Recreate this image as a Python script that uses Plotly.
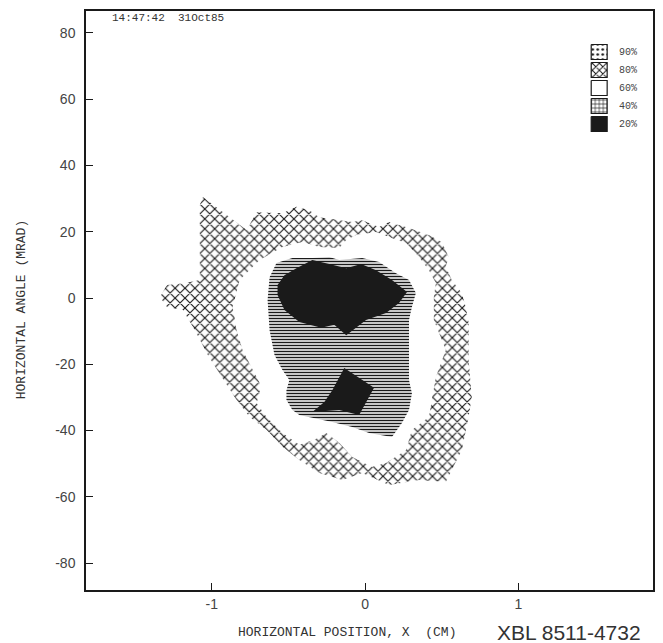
import plotly.graph_objects as go

# ---- data (x in cm, y in mrad) ----
ring80_x = [-1.058, -0.773, -0.708, -0.539, -0.448, -0.364, -0.299, -0.169, -0.084, -0.019,
            0.091, 0.156, 0.266, 0.416, 0.500, 0.545, 0.526, 0.565, 0.630, 0.656,
            0.675, 0.675, 0.695, 0.675, 0.630, 0.565, 0.526, 0.351, 0.156, -0.019,
            -0.149, -0.299, -0.429, -0.539, -0.643, -0.753, -0.838, -0.935, -1.026, -1.110,
            -1.188, -1.292, -1.338, -1.292, -1.175, -1.078, -1.078, -1.078]
ring80_y = [30.5, 20.5, 25.9, 25.6, 27.5, 26.5, 24.4, 23.5, 22.9, 23.5,
            21.4, 22.9, 21.4, 19.0, 16.9, 12.4, 9.4, 5.4, 1.5, -2.7,
            -7.5, -18.7, -29.9, -35.9, -45.9, -51.9, -55.5, -54.9, -56.4, -52.8,
            -54.9, -52.8, -48.9, -44.9, -39.8, -35.9, -30.8, -23.8, -17.2, -9.7,
            -3.6, -2.7, 0.3, 3.9, 4.5, 5.4, 17.5, 28.1]

band60_x = [-0.864, -0.818, -0.688, -0.539, -0.409, -0.299, -0.169, -0.123, -0.058, 0.071,
            0.156, 0.266, 0.351, 0.416, 0.461, 0.448, 0.448, 0.500, 0.526, 0.461,
            0.416, 0.305, 0.266, 0.136, 0.045, -0.084, -0.169, -0.253, -0.331, -0.429,
            -0.539, -0.643, -0.708, -0.688, -0.688, -0.799, -0.838]
band60_y = [-2.7, 5.4, 11.5, 15.4, 16.9, 15.4, 15.1, 17.5, 19.0, 19.9,
            18.4, 16.6, 12.4, 8.4, 4.5, 0.3, -6.6, -12.7, -15.7, -23.8,
            -35.9, -39.8, -45.9, -49.8, -51.0, -48.0, -43.7, -40.7, -42.8, -44.3,
            -40.7, -35.9, -31.7, -28.7, -25.6, -15.7, -9.7]

level40_x = [-0.578, -0.474, -0.344, -0.234, -0.169, -0.019, 0.091, 0.201, 0.286, 0.331,
             0.305, 0.286, 0.286, 0.286, 0.305, 0.286, 0.240, 0.175, 0.026, -0.084,
             -0.214, -0.429, -0.474, -0.513, -0.513, -0.494, -0.539, -0.591, -0.623, -0.636,
             -0.623]
level40_y = [10.6, 12.1, 12.1, 12.4, 11.5, 12.1, 10.9, 7.5, 5.4, 1.5,
             -2.7, -6.6, -15.7, -24.7, -28.7, -33.8, -37.7, -41.9, -40.7, -38.9,
             -37.4, -35.3, -33.8, -30.8, -27.8, -24.7, -21.7, -17.2, -9.7, -0.6,
             6.3]

core20a_x = [-0.571, -0.526, -0.448, -0.344, -0.234, -0.123, -0.026, 0.071, 0.175, 0.273,
             0.221, 0.136, 0.006, -0.123, -0.201, -0.286, -0.429, -0.526, -0.571]
core20a_y = [3.9, 6.9, 9.0, 11.5, 10.3, 9.0, 10.3, 8.4, 5.4, 1.8,
             -1.5, -4.5, -6.6, -11.2, -8.1, -9.0, -7.2, -3.6, 0.9]

core20b_x = [-0.136, 0.058, -0.039, -0.169, -0.344, -0.266, -0.214]
core20b_y = [-21.1, -27.1, -35.3, -33.8, -34.4, -31.4, -27.8]

legend_labels = ["90%", "80%", "60%", "40%", "20%"]
x_ticks = [-1, 0, 1]
y_ticks = [-80, -60, -40, -20, 0, 20, 40, 60, 80]

# ---- styles ----
INK = "#1a1a1a"
pat = {
    "90%": dict(shape=".", size=5, solidity=0.2, fgcolor=INK, bgcolor="white", fillmode="replace"),
    "80%": dict(shape="x", size=7, solidity=0.3, fgcolor=INK, bgcolor="white", fillmode="replace"),
    "40%": dict(shape="-", size=3, solidity=0.5, fgcolor=INK, bgcolor="white", fillmode="replace"),
}

fig = go.Figure()

def region(xs, ys, key):
    kw = dict(x=xs + xs[:1], y=ys + ys[:1], mode="lines", fill="toself",
              line=dict(width=0, color="rgba(0,0,0,0)"), hoverinfo="skip", showlegend=False)
    if key == "20%":
        kw["fillcolor"] = INK
    else:
        kw["fillcolor"] = "white"
        if key in pat:
            kw["fillpattern"] = pat[key]
    fig.add_trace(go.Scatter(**kw))

region(ring80_x, ring80_y, "80%")
region(band60_x, band60_y, "60%")
region(level40_x, level40_y, "40%")
region(core20a_x, core20a_y, "20%")
region(core20b_x, core20b_y, "20%")

# ---- manual legend on an overlay axis measured in pixels ----
legend_pat = {
    "90%": dict(shape=".", size=5, solidity=0.2, fgcolor=INK, bgcolor="white", fillmode="replace"),
    "80%": dict(shape="x", size=5, solidity=0.35, fgcolor=INK, bgcolor="white", fillmode="replace"),
    "40%": dict(shape="+", size=4, solidity=0.3, fgcolor=INK, bgcolor="white", fillmode="replace"),
}
for i, lab in enumerate(legend_labels):
    c = 10 + 18 * i
    kw = dict(x=[6, 22, 22, 6, 6], y=[c - 7.5, c - 7.5, c + 7.5, c + 7.5, c - 7.5],
              xaxis="x2", yaxis="y2", mode="lines", fill="toself",
              line=dict(width=1.2, color=INK), hoverinfo="skip", showlegend=False)
    if lab == "20%":
        kw["fillcolor"] = INK
    else:
        kw["fillcolor"] = "white"
        if lab in legend_pat:
            kw["fillpattern"] = legend_pat[lab]
    fig.add_trace(go.Scatter(**kw))
    fig.add_annotation(x=32, y=c, xref="x2", yref="y2", text=lab, showarrow=False,
                       xanchor="left", yanchor="middle",
                       font=dict(family="Liberation Mono", size=10, color="#444"))

L, R, T, B = 86, 655, 11, 590
PW, PH = R - L, B - T

axis_common = dict(showgrid=False, zeroline=False, showline=True, linecolor=INK, linewidth=1.5,
                   mirror=True, ticks="inside", ticklen=7, tickwidth=1, tickcolor=INK,
                   tickfont=dict(family="Liberation Sans", size=14, color="#444"))

fig.update_layout(
    width=663, height=643,
    margin=dict(l=L, r=663 - R, t=T, b=643 - B),
    paper_bgcolor="white", plot_bgcolor="white",
    xaxis=dict(range=[-1.82, 1.877], tickvals=x_ticks, ticktext=[str(v) for v in x_ticks],
               **axis_common),
    yaxis=dict(range=[-88.1, 86.6], tickvals=y_ticks, ticktext=[str(v) for v in y_ticks],
               ticklabelstandoff=6, **axis_common),
    xaxis2=dict(domain=[(587 - L) / PW, (650 - L) / PW], range=[0, 63], visible=False,
                anchor="y2", fixedrange=True),
    yaxis2=dict(domain=[(B - 135) / PH, (B - 42) / PH], range=[93, 0], visible=False,
                anchor="x2", fixedrange=True),
    showlegend=False,
)

fig.add_annotation(x=(110 - L) / PW, y=(B - 18) / PH, xref="paper", yref="paper",
                   text="14:47:42  31Oct85", showarrow=False, xanchor="left", yanchor="middle",
                   font=dict(family="Liberation Mono", size=11, color="#333"))
fig.add_annotation(x=(21 - L) / PW, y=(B - 310) / PH, xref="paper", yref="paper",
                   text="HORIZONTAL ANGLE (MRAD)", showarrow=False, textangle=-90,
                   xanchor="center", yanchor="middle",
                   font=dict(family="Liberation Mono", size=13, color="#333"))
fig.add_annotation(x=(348 - L) / PW, y=(B - 632) / PH, xref="paper", yref="paper",
                   text="HORIZONTAL POSITION, X  (CM)", showarrow=False,
                   xanchor="center", yanchor="middle",
                   font=dict(family="Liberation Mono", size=13, color="#333"))
fig.add_annotation(x=(645 - L) / PW, y=(B - 632) / PH, xref="paper", yref="paper",
                   text="XBL 8511-4732", showarrow=False, xanchor="right", yanchor="middle",
                   font=dict(family="Liberation Sans", size=21, color="#333"))

fig.write_html("out.html", config={"displayModeBar": False},
               post_script="document.body.style.margin='0';document.body.style.overflow='hidden';")
